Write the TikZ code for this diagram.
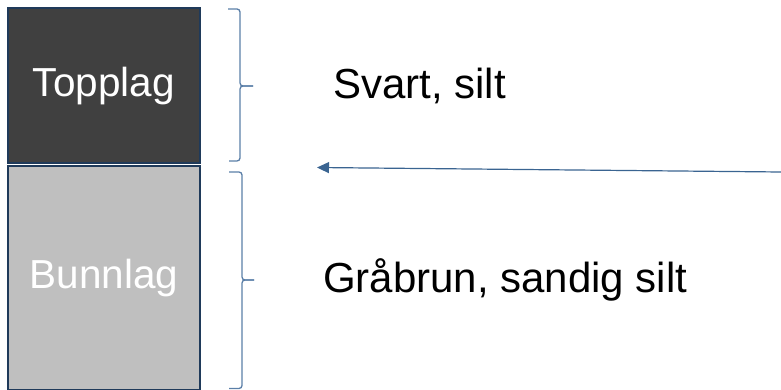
\documentclass[tikz,border=0pt]{standalone}
\usepackage{fontspec}
\setmainfont{Liberation Sans}
\usetikzlibrary{arrows.meta}
\definecolor{navy}{HTML}{1F3A5A}
\definecolor{topfill}{HTML}{404040}
\definecolor{botfill}{HTML}{BFBFBF}
\definecolor{bracec}{HTML}{5B7FA8}
\definecolor{arrowc}{HTML}{3A6491}
\tikzset{
  layer/.style={draw=navy, line width=1.8pt, minimum width=192pt, inner sep=0pt, anchor=north west},
  lbl/.style={font=\fontsize{40.5}{46}\selectfont, text=white},
  desc/.style={font=\fontsize{42}{48}\selectfont, anchor=west, inner sep=0pt},
  bracel/.style={draw=bracec, line width=1.3pt, rounded corners=3pt},
}
\begin{document}
\begin{tikzpicture}[x=1pt,y=-1pt]
\useasboundingbox (0,0) rectangle (781,390);
\node[layer, fill=topfill, minimum height=155pt] (top) at (7,7.5) {};
\node[layer, fill=botfill, minimum height=223pt] (bot) at (7,165.5) {};
\node[lbl] (toplbl) at (top.center) {Topplag};
\node[lbl] (botlbl) at (bot.center) {Bunnlag};
% braces
\draw[bracel] (228,9) -- (240,9) -- (240,86) -- (253,86);
\draw[bracel] (253,86) -- (240,86) -- (240,161) -- (229,161);
\draw[bracel] (229,172) -- (242,172) -- (242,280) -- (254,280);
\draw[bracel] (254,280) -- (242,280) -- (242,388.5) -- (229,388.5);
\node[desc] (t1) at (333,86) {Svart, silt};
\node[desc] (t2) at (323,280) {Gråbrun, sandig silt};
\coordinate (astart) at (781,172);
\coordinate (aend) at (317,167.5);
\draw[arrowc, line width=1.2pt, -{Triangle[length=12pt,width=11pt]}] (astart) -- (aend);
\end{tikzpicture}
\end{document}
